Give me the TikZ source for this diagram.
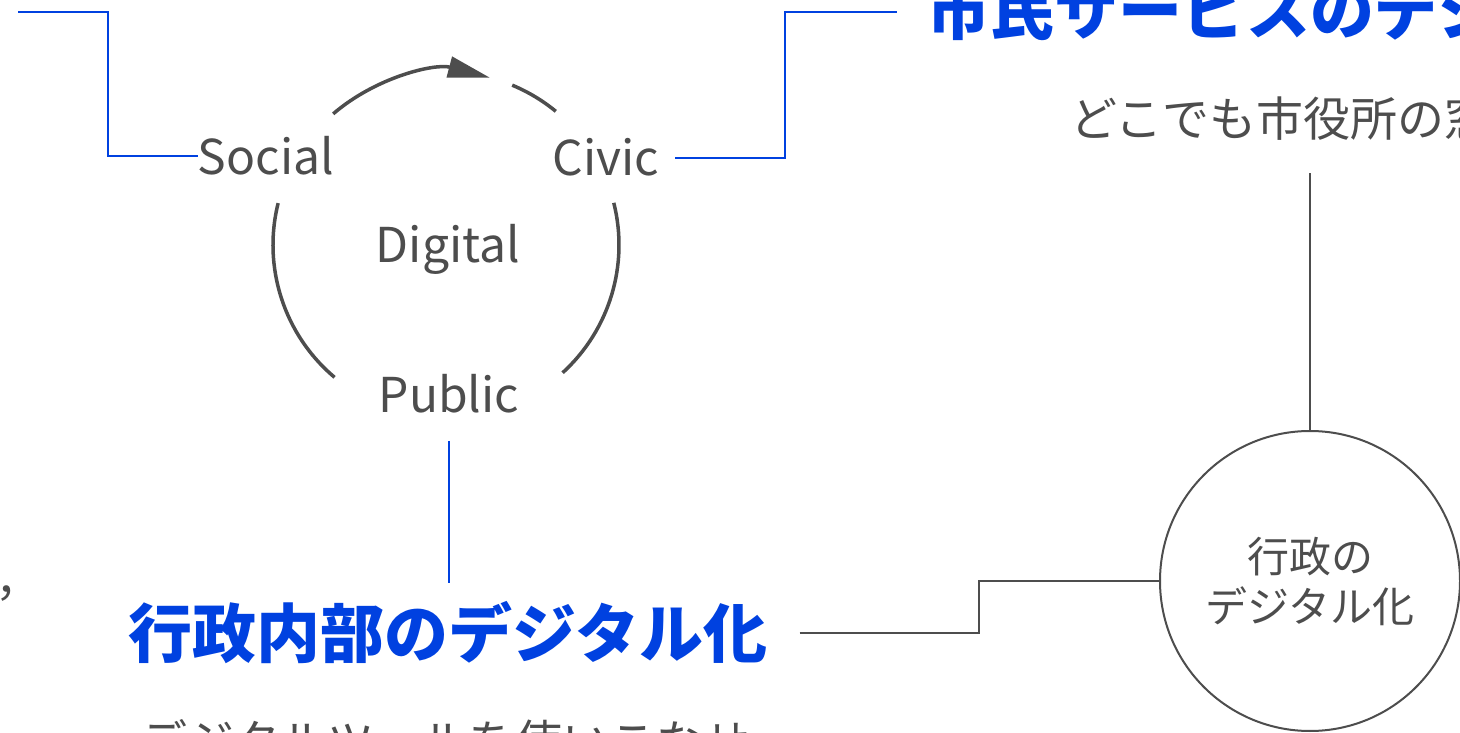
\documentclass[tikz,border=0pt]{standalone}
\usepackage{fontspec}
\setmainfont{Noto Sans CJK JP}
\usetikzlibrary{arrows.meta,calc}
\definecolor{bl}{HTML}{0041E0}
\definecolor{gr}{HTML}{4D4D4D}
\tikzset{
  lbl/.style={inner sep=0pt, anchor=base, text=gr, font=\fontsize{48}{56}\selectfont},
  heading/.style={inner sep=0pt, text=bl, font=\fontsize{64}{72}\selectfont\bfseries},
  sub/.style={inner sep=0pt, anchor=west, text=gr, font=\fontsize{47}{54}\selectfont},
  blueline/.style={draw=bl, line width=2pt},
  grayline/.style={draw=gr, line width=2pt},
  thinline/.style={draw=gr, line width=1.3pt},
  arcline/.style={draw=gr, line width=3.5pt},
  bigcirc/.style={circle, draw=gr, line width=2pt, minimum size=300pt, inner sep=0pt, align=center, text=gr, font=\fontsize{42}{50}\selectfont}
}
\begin{document}
\begin{tikzpicture}[x=1pt, y=1pt]
\useasboundingbox (0,0) rectangle (1460,732);
\clip (0,0) rectangle (1460,732);
% cycle
\coordinate (cyc) at (446,487);
\node[lbl] (social) at (266,557) {Social};
\node[lbl] (civic) at (606,556) {Civic};
\node[lbl] (digital) at (448,469) {Digital};
\node[lbl] (public) at (449,319) {Public};
\draw[arcline, -{Triangle[length=42pt, width=21pt]}] ($(cyc)+(130.7:173)$) arc[start angle=130.7, end angle=75.3, radius=173pt];
\draw[arcline] ($(cyc)+(67.5:173)$) arc[start angle=67.5, end angle=50.6, radius=173pt];
\draw[arcline] ($(cyc)+(14.1:173)$) arc[start angle=14.1, end angle=-47.6, radius=173pt];
\draw[arcline] ($(cyc)+(166:173)$) arc[start angle=166, end angle=229.9, radius=173pt];
% headings and texts
\node[heading] (hd1) at (448,99) {行政内部のデジタル化};
\node[heading, anchor=west] (hd2) at (926,722) {市民サービスのデジタル化};
\node[sub] (sub1) at (1070,613) {どこでも市役所の窓口};
\node[sub] (sub2) at (140,-9) {デジタルツールを使いこなせ};
\node[inner sep=0pt, anchor=base west, text=gr, font=\fontsize{46}{52}\selectfont] (comma) at (-5,136) {，};
\node[bigcirc] (circ) at (1310,151) {行政の\\デジタル化};
% connectors
\coordinate (socEnd) at (18,720);
\coordinate (civEnd) at (897,720);
\coordinate (vEnd) at (1310,559);
\draw[blueline] (social.west) -| (108,720) -- (socEnd);
\draw[blueline] ([xshift=16pt]civic.east) -| (785,720) -- (civEnd);
\draw[blueline] ([yshift=-27pt]public.south) -- ++(0,-142);
\draw[grayline] ([xshift=32pt]hd1.east) -- ++(179,0) |- (circ.west);
\draw[thinline] (circ.north) -- (vEnd);
\end{tikzpicture}
\end{document}
